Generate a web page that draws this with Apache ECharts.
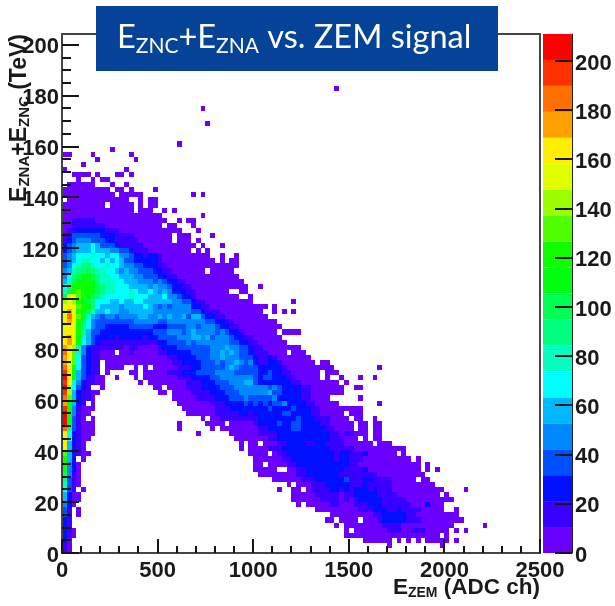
<!DOCTYPE html>
<html>
<head>
<meta charset="utf-8">
<title>EZNC+EZNA vs. ZEM signal</title>
<script src="https://cdn.jsdelivr.net/npm/echarts@6/dist/echarts.min.js"></script>
<style>
  html, body { margin: 0; padding: 0; background: #fff; }
  #main { width: 615px; height: 606px; }
</style>
</head>
<body>
<div id="main"></div>
<script>
var xMax = 2500, yMax = 204.3, zMax = 211;
var binX = 25, binY = 2;   // ADC ch, TeV
var xTicks = [0, 500, 1000, 1500, 2000, 2500];
var yTicks = [0, 20, 40, 60, 80, 100, 120, 140, 160, 180, 200];
var zTicks = [0, 20, 40, 60, 80, 100, 120, 140, 160, 180, 200];

// 20 contour bands of the palette, low to high
var bandColors = ['#6a00ff', '#3800ff', '#0010ff', '#0050ff', '#0088ff', '#00b8ff', '#00ffff', '#00ffc0', '#00ff80', '#00ff50',
  '#00ff10', '#10ff00', '#50ff00', '#9cff00', '#e0ff00', '#ffee00', '#ffa000', '#ff7000', '#ff3000', '#ff0000'];

// one string per y bin, row 0 at the bottom, groups of ten x bins. '.' = empty, 0-9a-j = colour band
var densityRows = [
  "10",
  "10........ .......... .......... .......... .......... .......... ........0. .........0",
  "20........ .......... .......... .......... .......... .......... ...000000. 0.0.0.0000 0.0",
  "210....... .......... .......... .......... .......... .........0 0000000000 000000000. 0",
  "210....... .......... .......... .......... .......... .........0 .000000011 1001110000 0.0.0",
  "21........ .......... .......... .......... .......... .......0.0 0000000111 1000000000 00......0.",
  "21........ .......... .......... .......... .......... .....00.00 00.0001222 2211100000 0000",
  "31.0...... .......... .......... .......... .......... ......0000 0000011222 2211000000 000",
  "31.0...... .......... .......... .......... .......... ...0000000 0011122211 2111100000 ..0",
  "420....... .......... .......... .......... .........0 .000001100 0111222111 1110002000",
  "5200...... .......... .......... .......... ........00 0000111101 0122222111 1100000000 00",
  "5200...... .......... .......... .......... ........00 0001111101 1222221111 000000000. 0",
  "631.0..... .......... .......... .......... .....0..00 .011112212 1222121110 0000000000 ....0",
  "7310...... .......... .......... .......... .......0.0 0011122222 1112111110 00000000",
  "8310...... .......... .......... .......... ....000000 1112222223 1112211110 0000.00",
  "9410...... .......... .......... .......... .000000001 1222222211 1111110000 000000",
  "a420...... .......... .......... .......... 00000..001 1222222221 1112000000 00000.0.0.",
  "b420...... .......... .......... .......... 00.0000112 2222222222 1100000000 00000.0",
  "b52.0..... .......... .......... .......... 0000001122 2222222122 1110000000 000.0",
  "c52100.... .......... .......... .........0 000.011222 2222222122 1112000000 .0",
  "e5210..... .......... .......... .......0.0 0001112222 2222221111 1000000000 00",
  "f5210..... .......... .......... .......0.0 0.00011222 2112211110 00000.000.",
  "f62100.... .......... .......... ......0000 0001122222 2222221110 00.0.00...",
  "f621000... .......... ........0. .....00000 0111122222 2222221101 1000.00...",
  "h831000... .......... ....0..... .0.0000000 0112222233 2222211000 0.00.00...",
  "ja31000... .......... ....0..... 0000.00000 1222232233 2222110000 0.00.00...",
  "ja310.0... .......... .........0 .001111111 1222222223 2221110000 .00..0....",
  "jb4100.... .......... ......0000 0011111221 2222223322 221100000. 000",
  "ib41000... .......... .....00000 0011122222 2223222232 2211000000 000",
  "gb521.0... .......... ....000000 0111222232 3232334222 21100000.. ......0...",
  "hc52110... .......... ...0000011 1122233343 3333422222 110000.... ..0",
  "id521100.. .......... 00.0000111 1222333444 4445332222 110000000.",
  "jd6321..0. .........0 0.00001112 2223334444 4443432222 110000000. .00",
  "if7421100. ......0.00 0000001112 2233344455 3222222211 00000000.0",
  "jfa531100. .0...0.000 0000111222 2334444444 3233222110 0000.0..0. ..0..0....",
  "ifb53211.0 ....00.000 0011122233 3344443333 3223221100 0000.000",
  "hfb63211.0 000..0.0.0 0000111223 3333454333 3222221000 0000000... ......0...",
  "gec63211.0 0000000000 0001122223 3343445434 2112210000 000.00",
  "gfc6321100 0000000000 0011222233 3445444333 2112100000 00",
  "hfc7421100 0.00100000 1122222333 3445454332 1110000.00 0",
  "gfd7421111 1110110000 1222333333 3444544332 1100000000",
  "fgea653211 1111111111 2233334344 4444433221 1000000",
  "fgea753222 2122222122 3333444554 5344432211 000000",
  "ffeb853322 2222222223 3344434544 4434322100 00000.0000",
  "efeb864332 2222333332 2233334434 4432211000 000000",
  "fgfb964333 3333344444 3344444444 3322110000 00000",
  "ehfca75434 4344445544 5454453553 2211000000 000.",
  "egeba97556 5544555554 4444444332 1110000000 00..0.0.0",
  "efecba8655 5545555654 3434444221 1000000000 000.0",
  "dedba98666 5565566555 5554433211 0000000000 ........0.",
  "9eecba9876 6666766655 5644322100 0000000..0",
  "79bcbba987 7666765565 4542221100 00000..00. .",
  "68abbaa987 7666555545 4432211000 000000000. .0",
  "579aaba877 7665554443 4322110000 00000000",
  "4689aa9877 6655544333 2211000000 0000000",
  "4578898776 6545443332 2110000000 .00000",
  "3467887667 6654433222 1100000000 0000000",
  "3456776656 5653322222 1000000000 00.0.00",
  "3456667665 6644322122 1000000000 0..0..0",
  "2345556555 4433211100 0000000.0. 0",
  "2345556533 3211111000 00000000.0 ...0",
  "1234443332 2111110000 000.000.0.",
  "1133333322 2111100000 000.000... .0",
  "0112222221 1100000000 00000...0.",
  "0011111110 0000000000 0.00...0",
  "0011111000 0000000000 00..0.00",
  "0000000000 0000000000 0........0",
  "0000000000 00000.000. .0.0",
  "000000000. 00000.0.00",
  ".000000000 0000..0.00",
  "0000000000 0.00000... .......0.0",
  "0000000000 .00.0....0",
  ".000000... 0..0",
  "...0..0.00",
  "..0000.0.. .00.0",
  "0......... ...0",
  "....0",
  ".......0.. .....0",
  "00....0... ....0",
  ".......... 0",
  ".......... .......... ....0",
  "", "", "",
  ".......... .......... .......... 0",
  "", "",
  ".......... .......... .........0",
  "", "", "",
  ".......... .......... .......... .......... .......... .......0"
];

var bandStep = zMax / bandColors.length;
var bandChars = '0123456789abcdefghij';
var cells = [];
densityRows.forEach(function (row, r) {
  var s = row.replace(/ /g, '');
  for (var c = 0; c < s.length; c++) {
    var band = bandChars.indexOf(s[c]);
    if (band >= 0) {
      cells.push([c * binX, r * binY, (band + 0.5) * bandStep]);
    }
  }
});

var plainNumber = function (v) { return String(v); };
// tick labels sit a little under their ticks in the original
var shiftedNumber = function (v) { return '{n|' + v + '}'; };
var labelFont = { fontFamily: 'Liberation Sans', fontWeight: 'bold', fontSize: 22, color: '#1a1a1a' };
var shiftedRich = { n: { fontFamily: 'Liberation Sans', fontWeight: 'bold', fontSize: 22, color: '#1a1a1a', padding: [5, 0, 0, 0] } };

var colorbarSeries = bandColors.map(function (col) {
  return {
    type: 'bar', stack: 'z', xAxisIndex: 1, yAxisIndex: 1, barWidth: '100%', z: 2,
    silent: true, itemStyle: { color: col }, data: [bandStep]
  };
});

var baseGraphics = [{
  type: 'rect', z: 100,
  shape: { x: 96, y: 6, width: 402, height: 65 },
  style: { fill: '#044397' }
}, {
  type: 'text', z: 101, x: 117, y: 38,
  style: {
    text: '{e|E}{s|ZNC}{e|+E}{s|ZNA}{e| vs. ZEM signal}',
    fill: '#fff', verticalAlign: 'middle',
    rich: {
      e: { fontFamily: 'Lato', fontSize: 32.5, lineHeight: 38, fill: '#fff' },
      s: { fontFamily: 'Lato', fontSize: 21, lineHeight: 22, verticalAlign: 'bottom', fill: '#fff' }
    }
  }
}, {
  type: 'text', z: 50, x: 540, y: 588,
  style: {
    text: '{e|E}{s|ZEM}{e| (ADC ch)}',
    align: 'right', verticalAlign: 'middle',
    rich: {
      e: { fontFamily: 'Liberation Sans', fontWeight: 'bold', fontSize: 22.5, lineHeight: 24, fill: '#1a1a1a' },
      s: { fontFamily: 'Liberation Sans', fontWeight: 'bold', fontSize: 14, lineHeight: 14, verticalAlign: 'bottom', fill: '#1a1a1a' }
    }
  }
}, {
  type: 'text', z: 50, x: 20, y: 34, rotation: Math.PI / 2,
  style: {
    text: '{e|E}{s|ZNA}{e|+E}{s|ZNC}{e| (TeV)}',
    align: 'right', verticalAlign: 'middle',
    rich: {
      e: { fontFamily: 'Liberation Sans', fontWeight: 'bold', fontSize: 23, lineHeight: 24, fill: '#1a1a1a' },
      s: { fontFamily: 'Liberation Sans', fontWeight: 'bold', fontSize: 15, lineHeight: 14, verticalAlign: 'bottom', fill: '#1a1a1a' }
    }
  }
}];

var myChart = echarts.init(document.getElementById('main'), null, { renderer: 'canvas' });
var option = {
  animation: false,
  backgroundColor: '#fff',
  grid: [
    { left: 62, right: 75, top: 34, bottom: 53, show: true, borderColor: '#444', borderWidth: 2 },
    { left: 543, right: 43, top: 34, bottom: 53 }
  ],
  xAxis: [{
    type: 'value', min: 0, max: xMax, interval: xTicks[1] - xTicks[0], z: 20,
    axisLine: { show: true, onZero: false, lineStyle: { color: '#444', width: 2 } },
    axisTick: { show: false },
    splitLine: { show: false },
    axisLabel: Object.assign({ margin: 7, formatter: plainNumber }, labelFont)
  }, {
    type: 'category', gridIndex: 1, data: ['z'], show: false
  }],
  yAxis: [{
    type: 'value', min: 0, max: yMax, interval: yTicks[1] - yTicks[0], z: 20,
    axisLine: { show: true, onZero: false, lineStyle: { color: '#444', width: 2 } },
    axisTick: { show: false },
    splitLine: { show: false },
    axisLabel: { margin: 3, showMaxLabel: false, formatter: shiftedNumber, rich: shiftedRich }
  }, {
    type: 'value', gridIndex: 1, position: 'right', min: 0, max: zMax, interval: zTicks[1] - zTicks[0], z: 20,
    axisLine: { show: true, lineStyle: { color: '#222', width: 1 } },
    axisTick: { show: false },
    splitLine: { show: false },
    axisLabel: { margin: 3, showMaxLabel: false, formatter: shiftedNumber, rich: shiftedRich }
  }],
  series: [{
    type: 'custom',
    silent: true,
    clip: false,
    progressive: 0,
    z: 4,
    data: cells,
    renderItem: function (params, api) {
      var x = api.value(0), y = api.value(1);
      var p0 = api.coord([x, y + binY]);
      var p1 = api.coord([x + binX, y]);
      var left = Math.round(p0[0]), top = Math.round(p0[1]);
      return {
        type: 'rect',
        shape: { x: left, y: top, width: Math.round(p1[0]) - left, height: Math.round(p1[1]) - top },
        style: { fill: bandColors[Math.floor(api.value(2) / bandStep)] }
      };
    }
  }].concat(colorbarSeries),
  graphic: baseGraphics
};
myChart.setOption(option);

// tick marks go on top as graphics, positions come from the axes
var tickGraphics = [];
function addTick(x, y, w, h) {
  tickGraphics.push({ type: 'rect', z: 60, shape: { x: x, y: y, width: w, height: h }, style: { fill: '#151515' } });
}
var frameLeft = myChart.convertToPixel({ xAxisIndex: 0 }, 0);
var frameBottom = myChart.convertToPixel({ yAxisIndex: 0 }, 0);
var barRight = 572;
for (var i = 0; i <= xMax; i += 100) {
  var len = i % 500 === 0 ? 14 : 7;
  addTick(Math.round(myChart.convertToPixel({ xAxisIndex: 0 }, i)) - 1, frameBottom - len, 2, len);
}
for (var j = 0; j <= 200; j += 5) {
  var ylen = j % 20 === 0 ? 17 : 9;
  addTick(frameLeft, Math.round(myChart.convertToPixel({ yAxisIndex: 0 }, j)) - 1, ylen, 2);
}
zTicks.forEach(function (v) {
  addTick(barRight - 17, Math.round(myChart.convertToPixel({ yAxisIndex: 1 }, v)) - 1, 17, 2);
});
myChart.setOption({ graphic: baseGraphics.concat(tickGraphics) });
</script>
</body>
</html>
